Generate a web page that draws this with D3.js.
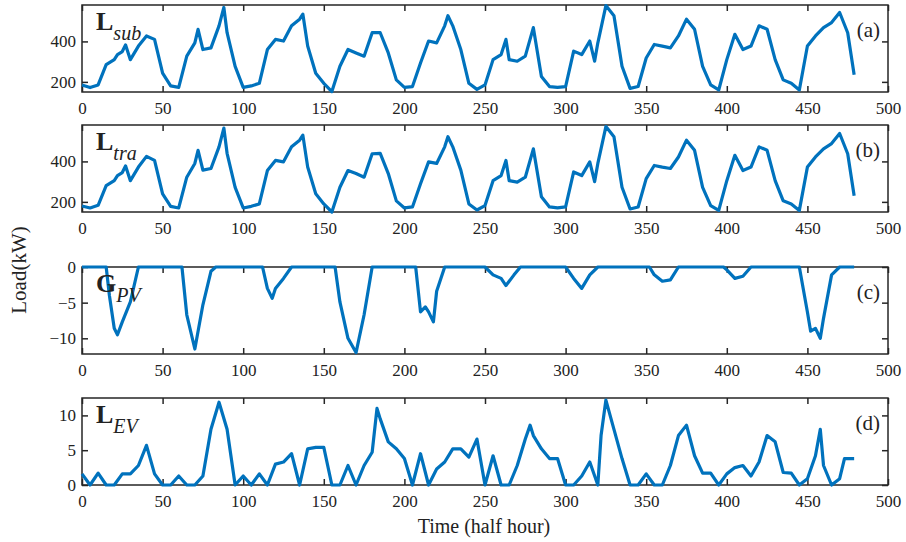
<!DOCTYPE html>
<html><head><meta charset="utf-8">
<script src="https://cdn.jsdelivr.net/npm/d3@7"></script>
<style>body{margin:0;background:#fff}text{font-family:"Liberation Serif","Times New Roman",serif;fill:#222}</style>
</head><body><svg id="c" width="906" height="542"></svg>
<script>
// sample times (half hours) and readings for each panel
var tSub = [0,5,10,15,20,22,25,27,30,35,40,45,50,55,60,65,70,72,75,80,85,88,90,95,100,105,110,115,120,125,130,135,137,140,145,150,155,160,165,170,175,180,185,190,195,200,205,210,215,220,225,227,230,235,240,245,250,255,260,263,265,270,275,280,285,290,295,300,305,310,315,318,320,325,330,335,340,345,350,355,360,365,370,375,380,385,390,395,400,405,410,415,420,425,430,435,440,445,450,455,460,465,470,475,479];
var vSub = [185,172,185,285,310,335,350,383,310,377,427,410,243,180,173,327,393,460,360,368,477,568,443,277,173,180,193,360,410,402,477,510,535,377,243,193,152,277,360,343,327,443,443,343,210,173,177,293,402,393,477,527,477,360,193,163,185,310,335,410,310,302,327,468,227,177,173,177,352,335,402,302,393,577,527,277,168,177,318,385,377,368,427,510,460,277,185,160,310,435,360,377,477,460,310,210,193,160,377,427,468,493,543,443,235];
var vTra = [180,170,183,280,305,330,345,378,305,372,425,405,240,178,170,322,390,455,357,365,472,565,440,272,170,178,190,355,405,398,472,505,530,372,240,190,150,272,355,340,322,438,440,340,205,170,175,290,398,390,472,522,472,357,190,160,182,305,330,405,305,298,322,462,225,175,170,175,348,330,398,300,390,572,522,272,165,175,315,380,372,365,422,505,455,272,182,158,305,430,355,372,472,455,305,205,190,158,372,422,462,488,538,438,230];

var tPV = [0,15,17,20,22,25,30,35,62,65,70,75,80,83,112,115,118,120,125,130,157,160,165,170,175,180,207,210,213,215,218,220,225,250,255,260,263,268,272,300,305,310,315,320,352,355,360,365,370,398,400,405,410,415,445,450,452,455,458,460,465,470,479];
var vPV = [0,0,-4,-8.6,-9.5,-7.7,-4.9,0,0,-6.7,-11.5,-5.3,-0.6,0,0,-3,-4.4,-3,-1.6,0,0,-4.9,-10,-12,-6.7,0,0,-6.3,-5.6,-6.3,-7.7,-3.4,0,0,-1.1,-1.6,-2.6,-1.1,0,0,-1.6,-3,-1.1,0,0,-1.1,-2,-1.8,0,0,-0.4,-1.6,-1.3,0,0,-6.3,-9,-8.6,-10,-7.2,-1.1,0,0];

var tEV = [0,5,10,15,20,25,30,35,40,45,50,55,60,65,70,75,80,85,90,95,100,105,110,115,120,125,130,135,140,145,150,155,160,165,170,175,180,183,185,190,195,200,205,210,215,220,225,230,235,240,245,250,255,260,265,270,275,278,280,285,290,295,300,305,310,315,320,322,325,330,335,340,345,350,355,360,365,370,375,380,385,390,395,400,405,410,415,420,425,430,435,440,445,450,455,458,460,465,470,473,479];
var vEV = [1.6,0,1.7,0,0,1.6,1.6,2.8,5.7,1.6,0,0,1.3,0,0,1.3,8,11.9,8,0,1.3,0,1.6,0,3,3.3,4.5,0,5.2,5.4,5.4,0,0,2.8,0,2.8,4.7,11,9.5,6.2,5.2,3.8,0,4.5,0,2.3,3.3,5.2,5.2,4,6.6,0,4.2,0,0,2.8,6.6,8.6,7.1,5.2,3.8,3.8,0,0,1.3,3.3,0,7.1,12.2,8,3.8,0,0,1.6,0,0,2.8,7.1,8.6,4.2,1.7,1.7,0,1.6,2.5,2.8,1.3,3.3,7.1,6.2,1.8,1.7,0,0.9,4.2,8,2.8,0,0.9,3.8,3.8];

var xTicks = d3.range(0, 501, 50);

var panels = [
  {t: tSub, v: vSub, top: 5, dom: [150, 580], ticks: [200, 400], main: "L", sub: "sub", tag: "(a)"},
  {t: tSub, v: vTra, top: 125, dom: [150, 580], ticks: [200, 400], main: "L", sub: "tra", tag: "(b)"},
  {t: tPV, v: vPV, top: 267, dom: [-12.2, 0], ticks: [-10, -5, 0], main: "G", sub: "PV", tag: "(c)"},
  {t: tEV, v: vEV, top: 398, dom: [0, 12.5], ticks: [0, 5, 10], main: "L", sub: "EV", tag: "(d)"}
];

var svg = d3.select("#c");
var left = 82, right = 888, ph = 87;
var x = d3.scaleLinear().domain([0, 500]).range([left, right]);

panels.forEach(function(p) {
  var y = d3.scaleLinear().domain(p.dom).range([p.top + ph, p.top]);
  var g = svg.append("g");

  g.append("rect").attr("x", left).attr("y", p.top).attr("width", right - left).attr("height", ph)
    .attr("fill", "none").attr("stroke", "#262626").attr("stroke-width", 1.5);

  var xa = g.append("g").attr("transform", "translate(0," + (p.top + ph) + ")")
    .call(d3.axisBottom(x).tickValues(xTicks).tickSize(-6).tickPadding(10));
  g.append("g").attr("transform", "translate(0," + p.top + ")")
    .call(d3.axisTop(x).tickValues(xTicks).tickSize(-6).tickFormat(""));
  g.append("g").attr("transform", "translate(" + left + ",0)")
    .call(d3.axisLeft(y).tickValues(p.ticks).tickSize(-6).tickPadding(6));
  g.append("g").attr("transform", "translate(" + right + ",0)")
    .call(d3.axisRight(y).tickValues(p.ticks).tickSize(-6).tickFormat(""));
  g.selectAll(".domain").remove();
  g.selectAll(".tick line").attr("stroke", "#262626").attr("stroke-width", 1.5);
  g.selectAll(".tick text").attr("font-size", 17).attr("fill", "#262626")
    .style("font-family", "'Liberation Serif', serif");

  var line = d3.line().x(function(d, i) { return x(p.t[i]); }).y(function(d) { return y(d); });
  g.append("path").datum(p.v).attr("d", line)
    .attr("fill", "none").attr("stroke", "#0072BD").attr("stroke-width", 3.2)
    .attr("stroke-linejoin", "round");

  var lab = g.append("text").attr("x", 96).attr("y", p.top + 25).attr("font-size", 26);
  lab.append("tspan").attr("font-weight", "bold").text(p.main);
  lab.append("tspan").attr("font-style", "italic").attr("font-size", 20).attr("dy", 10).text(p.sub);

  g.append("text").attr("x", 880).attr("y", p.top + 32).attr("text-anchor", "end")
    .attr("font-size", 21).text(p.tag);
});

svg.append("text").attr("transform", "translate(26,270) rotate(-90)").attr("text-anchor", "middle")
  .attr("font-size", 21).text("Load(kW)");
svg.append("text").attr("x", 484).attr("y", 533).attr("text-anchor", "middle")
  .attr("font-size", 20).text("Time (half hour)");
</script></body></html>
